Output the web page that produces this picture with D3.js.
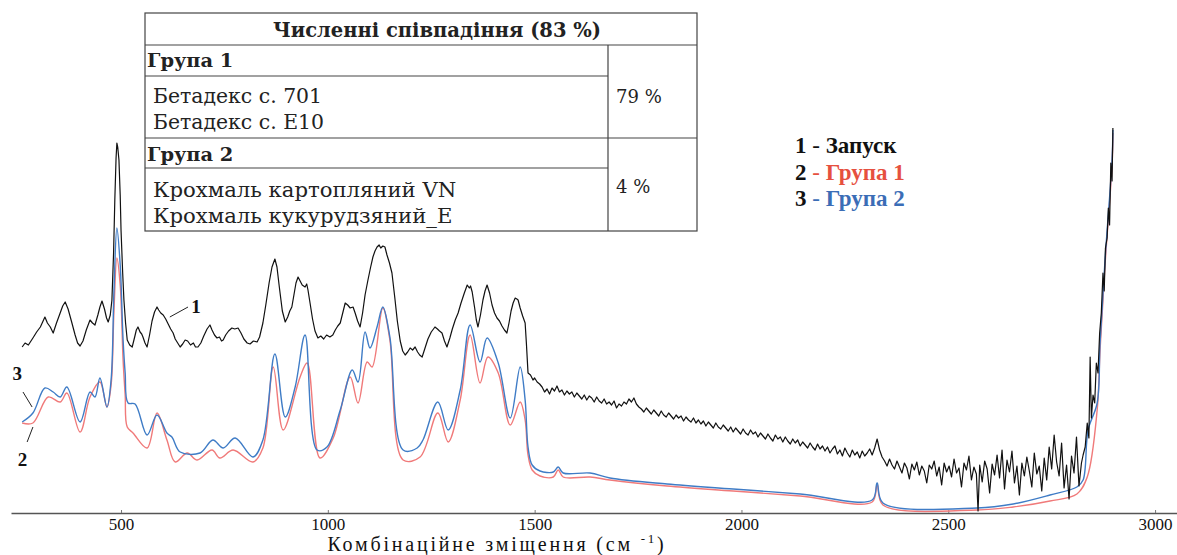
<!DOCTYPE html>
<html>
<head>
<meta charset="utf-8">
<script src="https://cdn.jsdelivr.net/npm/d3@7"></script>
<style>
  html, body { margin: 0; padding: 0; background: #fff; }
  svg { display: block; }
</style>
</head>
<body>
<svg id="chart" width="1177" height="555"></svg>
<script>
// Raman spectra: wavenumber (cm-1), intensity (a.u.)
const tickValues = [500, 1000, 1500, 2000, 2500, 3000];

const seriesNames = ["1 - Запуск", "2 - Група 1", "3 - Група 2"];

const spectrumRun = [
  [261,166],[268,170],[276,168],[287,175],[296,181],[305,186],[316,196],[322,190],[329,186],[336,180],
  [344,190],[352,199],[359,207],[365,211],[372,204],[380,192],[389,178],[395,170],[401,167],[408,172],
  [416,183],[425,193],[431,190],[437,188],[444,198],[449,206],[454,212],[460,204],[465,195],[469,191],
  [474,198],[478,213],[482,260],[485,313],[488,355],[490,370],[492,366],[495,353],[498,318],[500,283],
  [504,240],[507,213],[511,190],[515,173],[521,168],[527,166],[533,176],[537,183],[541,186],[546,181],
  [550,179],[553,176],[558,170],[563,166],[569,178],[575,192],[581,201],[587,206],[591,203],[596,200],
  [602,198],[608,194],[614,189],[620,184],[626,180],[631,174],[637,170],[643,166],[649,169],[655,173],
  [661,172],[668,168],[675,170],[680,166],[686,166],[693,170],[700,177],[708,184],[715,188],[720,183],
  [726,178],[732,175],[738,176],[743,172],[747,173],[753,178],[760,182],[768,185],[775,184],[783,185],
  [790,180],[797,174],[805,170],[812,169],[820,172],[829,171],[835,176],[843,190],[850,208],[858,230],
  [865,246],[872,254],[877,246],[883,225],[890,202],[897,191],[903,196],[908,202],[913,206],[918,218],
  [923,230],[928,236],[933,232],[938,228],[945,226],[949,229],[952,223],[957,210],[963,194],[969,182],
  [976,175],[983,177],[990,174],[997,178],[1005,176],[1012,178],[1018,183],[1024,187],[1030,190],[1036,200],
  [1042,210],[1048,208],[1054,205],[1061,206],[1066,200],[1072,192],[1078,186],[1084,200],[1090,218],[1097,233],
  [1103,245],[1109,256],[1114,262],[1119,266],[1124,268],[1128,265],[1133,267],[1138,266],[1143,258],[1149,250],
  [1155,240],[1162,215],[1168,192],[1175,172],[1181,162],[1187,158],[1193,161],[1199,165],[1205,163],[1211,166],
  [1217,161],[1222,158],[1228,156],[1235,165],[1242,174],[1250,181],[1259,186],[1265,184],[1270,182],[1276,180],
  [1282,172],[1288,166],[1295,175],[1301,184],[1308,193],[1315,200],[1322,210],[1330,220],[1337,228],[1342,225],
  [1345,227],[1349,221],[1355,205],[1359,193],[1363,186],[1369,198],[1375,213],[1380,222],[1385,228],[1391,220],
  [1397,208],[1403,200],[1409,195],[1415,192],[1421,187],[1427,183],[1433,180],[1438,190],[1443,202],[1448,210],
  [1453,215],[1457,214],[1460,213],[1465,205],[1471,197],[1477,190],[1480,170],[1484,140],[1490,138],[1496,133],
  [1500,135],[1506,131],[1512,129],[1518,126],[1524,121],[1530,124],[1536,119],[1542,125],[1548,122],[1554,127],
  [1560,121],[1566,123],[1572,118],[1578,122],[1584,119],[1590,121],[1596,116],[1602,120],[1608,117],[1614,114],
  [1620,118],[1626,113],[1632,117],[1638,115],[1644,111],[1650,116],[1656,112],[1662,110],[1668,114],[1674,109],
  [1680,111],[1686,108],[1692,112],[1698,105],[1704,109],[1710,107],[1716,111],[1722,109],[1728,114],[1734,111],
  [1740,115],[1746,109],[1752,106],[1758,104],[1764,101],[1770,105],[1776,102],[1782,99],[1788,103],[1794,100],
  [1800,97],[1806,102],[1812,98],[1818,96],[1824,100],[1830,97],[1836,94],[1842,98],[1848,95],[1854,97],
  [1860,92],[1866,96],[1872,93],[1878,91],[1884,95],[1890,90],[1896,93],[1902,89],[1908,92],[1914,87],
  [1920,91],[1926,88],[1932,85],[1938,90],[1944,86],[1950,84],[1956,88],[1962,85],[1968,82],[1974,86],
  [1980,81],[1986,85],[1992,82],[1998,79],[2004,84],[2010,80],[2016,78],[2022,83],[2028,79],[2034,81],
  [2040,76],[2046,80],[2052,77],[2058,74],[2064,79],[2070,75],[2076,72],[2082,78],[2088,74],[2094,76],
  [2100,71],[2106,76],[2112,72],[2118,69],[2124,74],[2130,70],[2136,73],[2142,67],[2148,71],[2154,68],
  [2160,65],[2166,70],[2172,66],[2178,63],[2184,69],[2190,64],[2196,67],[2202,62],[2208,66],[2214,60],
  [2220,64],[2226,67],[2232,59],[2238,63],[2244,57],[2250,65],[2256,60],[2262,56],[2268,63],[2274,58],
  [2280,61],[2286,55],[2292,62],[2298,57],[2304,60],[2310,64],[2316,58],[2322,65],[2328,74],[2334,63],
  [2340,56],[2346,52],[2352,47],[2358,54],[2364,48],[2370,44],[2376,52],[2382,46],[2388,40],[2394,50],
  [2400,45],[2406,34],[2412,49],[2418,43],[2424,51],[2430,38],[2436,47],[2442,42],[2448,30],[2454,48],
  [2460,44],[2466,52],[2472,37],[2478,46],[2484,28],[2490,50],[2496,41],[2502,47],[2508,36],[2514,54],
  [2520,40],[2526,45],[2532,26],[2538,50],[2544,43],[2550,57],[2556,33],[2562,46],[2568,39],[2572,2],
  [2576,48],[2582,31],[2588,52],[2594,44],[2600,20],[2606,49],[2612,38],[2618,58],[2624,35],[2630,63],
  [2636,24],[2642,53],[2648,41],[2654,62],[2660,30],[2666,47],[2672,18],[2678,50],[2684,37],[2690,56],
  [2696,42],[2702,26],[2708,60],[2714,39],[2720,47],[2726,22],[2732,55],[2738,33],[2744,66],[2750,44],
  [2756,78],[2762,51],[2768,37],[2774,70],[2780,25],[2786,48],[2792,14],[2798,57],[2804,40],[2810,76],
  [2816,27],[2822,50],[2826,58],[2831,66],[2836,90],[2840,75],[2843,156],[2846,95],[2850,118],[2854,110],
  [2858,150],[2862,140],[2866,180],[2870,200],[2874,240],[2877,222],[2880,265],[2884,275],[2887,305],[2890,288],
  [2893,350],[2896,332],[2898,385]
];

const spectrumGroup1 = [
  [261,90],[287,90],[324,116],[353,111],[369,120],[401,81],[425,116],[449,131],[466,106],[476,128],
  [483,203],[490,255],[498,228],[505,153],[510,118],[515,86],[529,80],[563,65],[587,100],[611,73],
  [631,51],[660,60],[684,53],[720,63],[739,55],[771,63],[819,51],[843,65],[868,146],[892,83],
  [933,136],[950,150],[981,55],[1013,75],[1054,136],[1073,110],[1095,151],[1107,146],[1133,205],[1150,173],
  [1182,53],[1223,56],[1266,100],[1291,71],[1320,113],[1344,178],[1368,130],[1387,156],[1412,140],[1441,88],
  [1465,111],[1477,93],[1484,58],[1494,43],[1513,37],[1545,36],[1557,43],[1569,36],[1634,36],[1682,33],
  [1820,27],[1980,22],[2142,17],[2316,11],[2328,28],[2342,8],[2570,3],[2657,6],[2746,12],[2811,19],
  [2836,36],[2860,103],[2867,163],[2879,248],[2896,348],[2898,380]
];

const spectrumGroup2 = [
  [261,91],[287,100],[316,125],[336,121],[353,116],[369,126],[401,91],[425,121],[437,116],[449,135],
  [466,106],[476,133],[483,223],[490,285],[498,248],[505,173],[510,140],[517,110],[534,109],[563,78],
  [587,98],[611,80],[623,76],[643,61],[691,60],[722,73],[747,65],[776,75],[819,56],[843,73],
  [872,159],[897,96],[921,126],[945,178],[974,63],[998,66],[1030,103],[1059,143],[1073,131],[1090,181],
  [1102,165],[1119,186],[1133,206],[1150,176],[1182,63],[1216,65],[1230,73],[1266,111],[1291,83],[1320,123],
  [1344,188],[1368,151],[1385,175],[1412,150],[1441,95],[1465,146],[1477,113],[1484,66],[1494,48],[1513,42],
  [1545,41],[1557,46],[1569,40],[1634,40],[1682,35],[1820,29],[1980,24],[2142,19],[2316,13],[2328,30],
  [2342,10],[2570,5],[2657,9],[2746,18],[2811,26],[2826,33],[2838,83],[2860,110],[2867,170],[2879,253],
  [2896,353],[2898,383]
];

// Matching table contents
const tableTitle = "Численні співпадіння (83 %)";
const groupNames = ["Група 1", "Група 2"];
const groupMembers = [
  ["Бетадекс с. 701", "Бетадекс с. Е10"],
  ["Крохмаль картопляний VN", "Крохмаль кукурудзяний_E"]
];
const groupShares = ["79 %", "4 %"];

const colors = ["#111111", "#f07a7a", "#3f7cc6"];
const legendColors = ["#111111", "#e6503f", "#3b6db6"];

const svg = d3.select("#chart");

const x = d3.scaleLinear().domain([234, 3053]).range([11, 1177]);
const y = d3.scaleLinear().domain([0, 400]).range([513, 113]);

// x axis
const axis = d3.axisBottom(x).tickValues(tickValues).tickSize(-3).tickSizeOuter(0).tickFormat(d3.format("d"));
const gAxis = svg.append("g").attr("transform", `translate(0,${y(0)})`).call(axis);
gAxis.select(".domain").attr("stroke", "#555").attr("stroke-width", 1.4);
gAxis.selectAll(".tick line").attr("stroke", "#777");
gAxis.selectAll(".tick text")
  .attr("font-family", "'Liberation Serif', 'Times New Roman', serif")
  .attr("font-size", 17).attr("fill", "#111").attr("y", 0).attr("dy", 16.5);

const title = svg.append("text")
  .attr("x", 497).attr("y", 551)
  .attr("text-anchor", "middle")
  .attr("font-family", "'Liberation Serif', 'Times New Roman', serif")
  .attr("font-size", 20).attr("letter-spacing", 2.8).attr("fill", "#111");
title.append("tspan").text("Комбінаційне зміщення (см ");
title.append("tspan").attr("font-size", 13).attr("dy", -8).text("-1");
title.append("tspan").attr("dy", 8).text(")");

// spectra
const lineSmooth = d3.line().x(d => x(d[0])).y(d => y(d[1])).curve(d3.curveCatmullRom.alpha(0.5));
const lineRaw = d3.line().x(d => x(d[0])).y(d => y(d[1]));

svg.append("path").datum(spectrumGroup1).attr("d", lineSmooth)
  .attr("fill", "none").attr("stroke", colors[1]).attr("stroke-width", 1.4);
svg.append("path").datum(spectrumGroup2).attr("d", lineSmooth)
  .attr("fill", "none").attr("stroke", colors[2]).attr("stroke-width", 1.4);
svg.append("path").datum(spectrumRun).attr("d", lineRaw)
  .attr("fill", "none").attr("stroke", colors[0]).attr("stroke-width", 1.2)
  .attr("stroke-linejoin", "round");

// curve labels with leader lines (anchored in data units)
const curveLabels = [
  { text: "1", tx: 681, ty: 200, from: [618, 196], to: [662, 206] },
  { text: "3", tx: 249, ty: 133, from: [263, 121], to: [285, 106] },
  { text: "2", tx: 262, ty: 47, from: [273, 71], to: [287, 86] }
];
curveLabels.forEach(l => {
  svg.append("line")
    .attr("x1", x(l.from[0])).attr("y1", y(l.from[1]))
    .attr("x2", x(l.to[0])).attr("y2", y(l.to[1]))
    .attr("stroke", "#222").attr("stroke-width", 1);
  svg.append("text").attr("x", x(l.tx)).attr("y", y(l.ty))
    .attr("text-anchor", "middle")
    .attr("font-family", "'Liberation Serif', 'Times New Roman', serif")
    .attr("font-weight", "bold").attr("font-size", 19).attr("fill", "#111")
    .text(l.text);
});

// legend
const legend = svg.append("g").attr("transform", "translate(795,153)")
  .attr("font-family", "'Liberation Serif', 'Times New Roman', serif")
  .attr("font-size", 23).attr("font-weight", "bold");
seriesNames.forEach((name, i) => {
  const [num, label] = name.split(" - ");
  const t = legend.append("text").attr("x", 0).attr("y", i * 26.5);
  t.append("tspan").attr("fill", "#111").text(num);
  t.append("tspan").attr("fill", legendColors[i]).attr("font-weight", "normal").text(" - ");
  t.append("tspan").attr("fill", legendColors[i]).text(label);
});

// table
const tbl = svg.append("g")
  .attr("font-family", "'DejaVu Serif', serif").attr("fill", "#222");
const T = { left: 145, right: 697, top: 13, bottom: 231, split: 608,
            rows: [45, 76, 138, 168] };
tbl.append("rect").attr("x", T.left).attr("y", T.top)
  .attr("width", T.right - T.left).attr("height", T.bottom - T.top)
  .attr("fill", "#fff").attr("stroke", "#444").attr("stroke-width", 1.2);
[[T.rows[0], T.right], [T.rows[1], T.split], [T.rows[2], T.right], [T.rows[3], T.split]].forEach(([yy, xr]) => {
  tbl.append("line").attr("x1", T.left).attr("x2", xr).attr("y1", yy).attr("y2", yy)
    .attr("stroke", "#444").attr("stroke-width", 1.2);
});
tbl.append("line").attr("x1", T.split).attr("x2", T.split).attr("y1", T.rows[0]).attr("y2", T.bottom)
  .attr("stroke", "#444").attr("stroke-width", 1.2);

tbl.append("text").attr("x", 437).attr("y", 37).attr("text-anchor", "middle")
  .attr("font-weight", "bold").attr("font-size", 19.5).attr("fill", "#222").text(tableTitle);

const groupBase = [67, 161];
groupNames.forEach((g, i) => {
  tbl.append("text").attr("x", 147).attr("y", groupBase[i])
    .attr("font-weight", "bold").attr("font-size", 19.4).attr("fill", "#222").text(g);
  groupMembers[i].forEach((m, j) => {
    tbl.append("text").attr("x", 153).attr("y", groupBase[i] + 36 + j * 25.5)
      .attr("font-size", i === 0 ? 20.4 : 21.2).attr("fill", "#222").text(m);
  });
  tbl.append("text").attr("x", 616).attr("y", groupBase[i] + 36 - (i === 1 ? 4 : 0))
    .attr("font-size", 18).attr("fill", "#222").text(groupShares[i]);
});
</script>
</body>
</html>
